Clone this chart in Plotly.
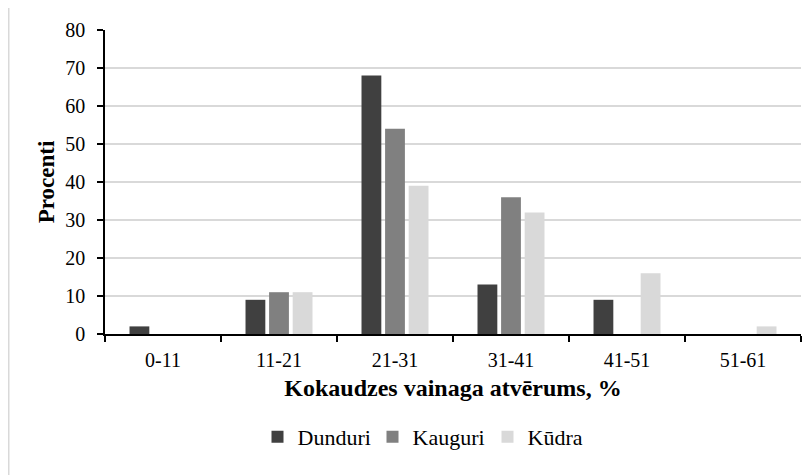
import plotly.graph_objects as go

categories = ["0-11", "11-21", "21-31", "31-41", "41-51", "51-61"]
dunduri = [2, 9, 68, 13, 9, 0]
kauguri = [0, 11, 54, 36, 0, 0]
kudra = [0, 11, 39, 32, 16, 2]
y_ticks = [0, 10, 20, 30, 40, 50, 60, 70, 80]

FONT = "Liberation Serif"

fig = go.Figure()
for name, vals, col in [("Dunduri", dunduri, "#404040"),
                        ("Kauguri", kauguri, "#808080"),
                        ("Kūdra", kudra, "#d9d9d9")]:
    fig.add_trace(go.Bar(name=name, x=categories, y=vals, marker_color=col,
                         marker_line_width=0))

# page body has an 8px margin; figure starts at (8, 8)
W, H = 804, 467
L, R, T, B = 97, 11, 22, 141
pw, ph = W - L - R, H - T - B

def px(x):
    return (x - L) / pw

def py(y):
    return (H - B - y) / ph

fig.update_layout(
    width=W, height=H,
    margin=dict(l=L, r=R, t=T, b=B),
    paper_bgcolor="white", plot_bgcolor="white",
    font=dict(family=FONT, size=20, color="black"),
    barmode="group", bargap=0.39, bargroupgap=0.16,
    showlegend=True,
    legend=dict(orientation="h", x=px(422), xanchor="center", y=py(429), yanchor="middle",
                font=dict(family=FONT, size=22), itemwidth=30, traceorder="normal",
                entrywidth=70, entrywidthmode="pixels"),
    xaxis=dict(
        type="category", showline=True, linecolor="black", linewidth=1.5,
        ticks="outside", ticklen=6, tickcolor="black", tickwidth=1.5,
        tickson="boundaries", showgrid=False, ticklabelstandoff=7,
        title=dict(text="<b>Kokaudzes vainaga atvērums, %</b>", font=dict(family=FONT, size=24), standoff=9),
    ),
    yaxis=dict(
        range=[0, 80], tickvals=y_ticks, showline=True, linecolor="black", linewidth=1.5,
        ticks="outside", ticklen=6, tickcolor="black", tickwidth=1.5,
        showgrid=True, gridcolor="#d9d9d9", gridwidth=1.5, zeroline=False,
        ticklabelstandoff=8,
        title=dict(text="<b>Procenti</b>", font=dict(family=FONT, size=23), standoff=4),
    ),
    shapes=[dict(type="rect", xref="paper", yref="paper",
                 x0=px(0.75), x1=px(830), y0=py(-0.75), y1=py(490),
                 line=dict(color="#d9d9d9", width=1.5), layer="below")],
)

fig.write_html("out.html")
